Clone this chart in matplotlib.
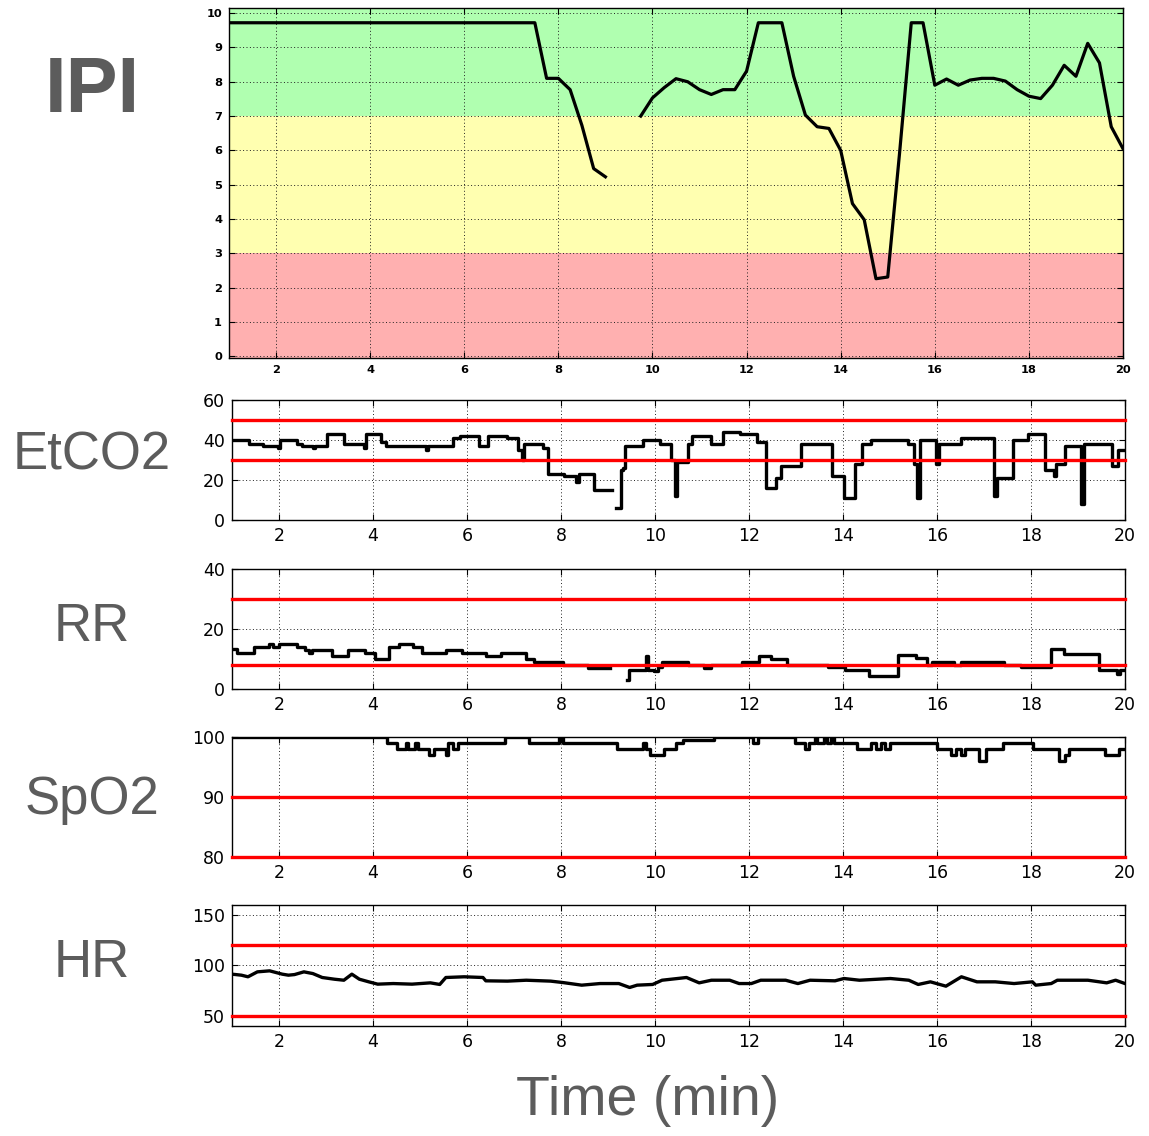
import numpy as np
import matplotlib
matplotlib.use("Agg")
import matplotlib.pyplot as plt

nan = np.nan

# IPI (index, sampled every 15 s, gap = no data)
ipi_t = [1.0, 7.5, 7.75, 8.0, 8.25, 8.5, 8.75, 9.0, 9.4,
         9.75, 10.0, 10.25, 10.5, 10.75, 11.0, 11.25, 11.5, 11.75, 12.0,
         12.25, 12.5, 12.75, 13.0, 13.25, 13.5, 13.75, 14.0, 14.25, 14.5,
         14.75, 15.0, 15.25, 15.5, 15.75, 16.0, 16.25, 16.5, 16.75, 17.0,
         17.25, 17.5, 17.75, 18.0, 18.25, 18.5, 18.75, 19.0, 19.25, 19.5,
         19.75, 20.0]
ipi_v = [9.72, 9.72, 8.1, 8.1, 7.77, 6.73, 5.47, 5.23, nan,
         7.0, 7.53, 7.83, 8.09, 8.0, 7.77, 7.63, 7.77, 7.77, 8.31,
         9.72, 9.72, 9.72, 8.16, 7.03, 6.69, 6.64, 6.0, 4.45, 3.98,
         2.26, 2.31, 5.9, 9.72, 9.72, 7.9, 8.08, 7.9, 8.05, 8.1,
         8.1, 8.02, 7.77, 7.58, 7.51, 7.9, 8.48, 8.16, 9.12, 8.55,
         6.69, 6.05]

# EtCO2 (step values, start time of each step)
etco2_t = [1.0, 1.37, 1.65, 1.97, 2.02, 2.38, 2.49, 2.73, 2.77, 3.02,
           3.38, 3.8, 3.85, 4.17, 4.27, 5.12, 5.17, 5.7, 5.86, 6.25,
           6.45, 6.86, 7.08, 7.18, 7.22, 7.62, 7.72, 8.06, 8.32, 8.38,
           8.7, 9.08, 9.18, 9.27, 9.32, 9.36, 9.74, 10.1, 10.34, 10.42,
           10.47, 10.7, 10.78, 11.2, 11.45, 11.8, 12.18, 12.36, 12.58, 12.68,
           13.1, 13.76, 14.02, 14.26, 14.4, 14.6, 15.38, 15.52, 15.58, 15.64,
           15.98, 16.04, 16.5, 17.22, 17.28, 17.62, 17.94, 18.3, 18.48, 18.54,
           18.72, 19.07, 19.12, 19.72, 19.86, 20.0]
etco2_v = [40, 38, 37, 36, 40, 38, 37, 36, 37, 43,
           38, 36, 43, 39, 37, 35, 37, 41, 42, 37,
           42, 41, 35, 30, 38, 36, 23, 22, 19, 23,
           15, nan, 6, 25, 26, 37, 40, 38, 30, 12,
           29, 38, 42, 38, 44, 43, 39, 16, 21, 27,
           38, 22, 11, 28, 38, 40, 38, 28, 11, 40,
           28, 38, 41, 12, 21, 40, 43, 25, 22, 28,
           37, 8, 38, 27, 35, 35]

# RR
rr_t = [1.0, 1.1, 1.47, 1.78, 1.88, 2.0, 2.38, 2.56, 2.63, 2.7,
        3.12, 3.46, 3.82, 4.05, 4.33, 4.55, 4.85, 5.05, 5.56, 5.9,
        6.4, 6.72, 7.26, 7.42, 8.05, 8.58, 9.05, 9.4, 9.45, 9.8,
        9.86, 9.97, 10.07, 10.14, 10.7, 11.05, 11.2, 11.85, 12.22, 12.46,
        12.8, 13.68, 14.05, 14.55, 15.16, 15.55, 15.78, 15.9, 16.36, 16.52,
        17.42, 17.78, 18.42, 18.7, 19.44, 19.82, 19.9, 20.0]
rr_v = [13.4, 12, 14, 15, 14, 15, 14, 13, 12, 13,
        11, 13, 12, 10, 14, 15, 14, 12, 13, 12,
        11, 12, 10, 9, 8, 7, nan, 3, 6.5, 11,
        6.5, 6, 7.5, 9, 8, 7, 8, 9, 11, 10,
        8, 7.5, 6.5, 4.3, 11.5, 10.4, 8, 9, 8, 9,
        8, 7.2, 13.4, 11.6, 6.2, 5, 6.5, 6.5]

# SpO2
spo2_t = [1.0, 4.3, 4.5, 4.7, 4.75, 4.9, 4.95, 5.2, 5.3, 5.55,
          5.6, 5.7, 5.8, 6.8, 7.32, 7.95, 8.05, 9.2, 9.75, 9.8,
          9.9, 10.2, 10.45, 10.6, 11.25, 12.08, 12.2, 12.97, 13.2, 13.28,
          13.4, 13.45, 13.6, 13.65, 13.75, 13.8, 14.3, 14.6, 14.7, 14.8,
          14.9, 15.0, 15.14, 16.0, 16.3, 16.4, 16.5, 16.6, 16.9, 17.05,
          17.2, 17.4, 18.05, 18.6, 18.72, 18.8, 19.58, 19.88, 20.0]
spo2_v = [100, 99, 98, 99, 98, 99, 98, 97, 98, 97,
          99, 98, 99, 100, 99, 100, 99, 98, 99, 98,
          97, 98, 99, 99.5, 100, 99, 100, 99, 98, 99,
          100, 99, 100, 99, 100, 99, 98, 99, 98, 99,
          98, 99, 99, 98, 97, 98, 97, 98, 96, 98,
          98, 99, 98, 96, 97, 98, 97, 98, 98]

# HR
hr_t = [1.0, 1.2, 1.34, 1.54, 1.8, 2.07, 2.2, 2.33, 2.53, 2.72,
        2.92, 3.18, 3.38, 3.55, 3.71, 3.91, 4.1, 4.43, 4.83, 5.22,
        5.42, 5.55, 5.94, 6.34, 6.4, 6.86, 7.26, 7.78, 8.04, 8.44,
        8.83, 9.23, 9.46, 9.62, 9.95, 10.15, 10.48, 10.67, 10.94, 11.2,
        11.59, 11.79, 12.05, 12.25, 12.78, 13.04, 13.3, 13.83, 14.02, 14.35,
        15.01, 15.4, 15.6, 15.86, 16.19, 16.52, 16.85, 17.24, 17.64, 18.03,
        18.1, 18.43, 18.56, 19.21, 19.61, 19.8, 20.0]
hr_v = [91.4, 90.4, 88.8, 93.7, 94.7, 91.4, 90.4, 91.0, 93.7, 92.0,
        88.1, 86.4, 85.4, 91.4, 86.4, 83.8, 81.5, 82.1, 81.5, 82.8,
        81.2, 88.1, 88.8, 88.1, 84.8, 84.5, 85.4, 84.5, 83.1, 80.5,
        82.1, 82.1, 78.2, 80.5, 81.2, 85.4, 87.1, 88.1, 82.8, 85.4,
        85.4, 82.1, 82.1, 85.4, 85.4, 82.1, 85.4, 84.8, 87.1, 85.4,
        87.1, 85.4, 81.2, 83.8, 79.5, 88.8, 83.8, 83.8, 82.1, 83.8,
        80.5, 82.1, 85.4, 85.4, 82.8, 85.4, 82.1]

labels = ["IPI", "EtCO2", "RR", "SpO2", "HR"]
txt_col = "#5c5c5c"

fig = plt.figure(figsize=(11.49, 11.36), dpi=100)
W, H = 1149.0, 1136.0


def add_ax(l, r, t, b):
    return fig.add_axes([l / W, 1 - b / H, (r - l) / W, (b - t) / H])


def style(ax, fs, bold=False):
    ax.set_xlim(1, 20)
    ax.set_xticks(range(2, 21, 2))
    ax.grid(True, color="#222222", linestyle=(0, (1, 2.5)), linewidth=0.7)
    ax.tick_params(direction="in", length=4, top=True, right=True,
                   labelsize=fs, pad=5)
    for lab in ax.get_xticklabels() + ax.get_yticklabels():
        if bold:
            lab.set_fontweight("bold")
    for s in ax.spines.values():
        s.set_linewidth(1.0)


# --- IPI ---
ax = add_ax(229, 1123, 8, 358)
ax.set_ylim(-0.05, 10.15)
ax.axhspan(-1, 3, color="#ffb0b0", lw=0)
ax.axhspan(3, 7, color="#ffffb0", lw=0)
ax.axhspan(7, 11, color="#b0ffb0", lw=0)
ax.plot(ipi_t, ipi_v, color="black", lw=2.3, zorder=3)
ax.set_yticks(range(0, 11))
style(ax, 8.2, bold=True)

# --- lower panels ---
lower = [
    (400, 520, etco2_t, etco2_v, (0, 60), [0, 20, 40, 60], [30, 50], True),
    (569, 689, rr_t, rr_v, (0, 40), [0, 20, 40], [8, 30], True),
    (737, 857, spo2_t, spo2_v, (80, 100), [80, 90, 100], [80, 90], True),
    (905, 1026, hr_t, hr_v, (40, 160), [50, 100, 150], [50, 120], False),
]
for top, bot, t, v, ylim, yt, lims, stepped in lower:
    ax = add_ax(232, 1125, top, bot)
    ax.set_ylim(*ylim)
    ax.set_yticks(yt)
    if stepped:
        ax.plot(t, v, color="black", lw=2.4, drawstyle="steps-post", zorder=3)
    else:
        ax.plot(t, v, color="black", lw=2.4, zorder=3)
    for y in lims:
        ax.axhline(y, color="red", lw=2.4, zorder=4, clip_on=False)
    style(ax, 12.5)

# side labels
fig.text(92 / W, 1 - 91 / H, "IPI", fontsize=56, fontweight="bold",
         color=txt_col, ha="center", va="center", family="Liberation Sans")
for name, yc in zip(labels[1:], [455, 627, 800, 963]):
    fig.text(92 / W, 1 - yc / H, name, fontsize=38, color=txt_col,
             ha="center", va="center", family="Liberation Sans")
fig.text(648 / W, 1 - 1101 / H, "Time (min)", fontsize=40, color=txt_col,
         ha="center", va="center", family="Liberation Sans")

fig.savefig("out.png", dpi=100, facecolor="white")
